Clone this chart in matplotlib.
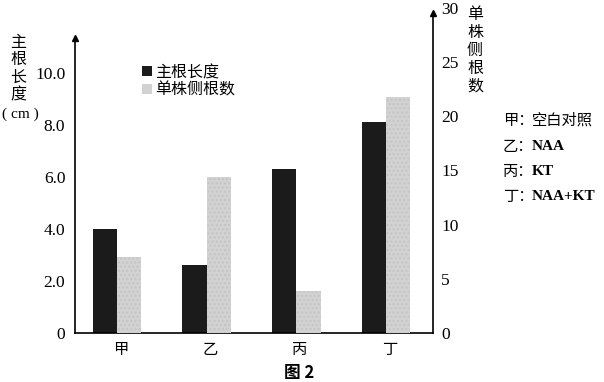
import matplotlib
matplotlib.use("Agg")
import matplotlib.pyplot as plt
from matplotlib.patches import Patch
import numpy as np

categories = ["甲", "乙", "丙", "丁"]
main_root_len = [4.0, 2.6, 6.3, 8.1]        # cm, left axis
lateral_roots = [7.0, 14.4, 3.9, 21.8]      # count, right axis
left_ticks = [0, 2.0, 4.0, 6.0, 8.0, 10.0]
left_ticklabels = ["0", "2.0", "4.0", "6.0", "8.0", "10.0"]
right_ticks = [0, 5, 10, 15, 20, 25, 30]
legend_labels = ["主根长度", "单株侧根数"]
notes_prefix = ["甲：", "乙：", "丙：", "丁："]
notes_text = ["空白对照", "NAA", "KT", "NAA+KT"]

SERIF = ["Liberation Serif", "Noto Sans CJK SC"]
CJK = ["Noto Sans CJK SC", "Liberation Serif"]
plt.rcParams["font.family"] = SERIF

W, H = 604, 382
fig = plt.figure(figsize=(W / 100, H / 100), dpi=100)

def fx(px):
    return px / W

def fy(py):
    return 1 - py / H

ax_l, ax_r_px, ax_b, ax_t = 75, 433, 333, 8
ax = fig.add_axes([fx(ax_l), fy(ax_b), fx(ax_r_px - ax_l), (ax_b - ax_t) / H])
ax2 = ax.twinx()

LPX = 26.0                       # px per unit, left axis
RPX = (ax_b - ax_t) / 30.0       # px per unit, right axis

x = np.arange(len(categories))
w = 0.27
dark = "#1b1b1b"
light = "#d2d2d2"
ax.bar(x - w / 2, main_root_len, width=w, color=dark, zorder=2)
ax2.bar(x + w / 2, lateral_roots, width=w, color=light, zorder=2,
        hatch="....", edgecolor="#c4c4c4", linewidth=0)

ax.set_xlim(-0.468, 3.523)
ax.set_ylim(0, (ax_b - ax_t) / LPX)
ax2.set_ylim(0, 30)

for a in (ax, ax2):
    a.spines["top"].set_visible(False)
    a.patch.set_visible(False)
ax.spines["right"].set_visible(False)
ax2.spines["left"].set_visible(False)
ax2.spines["bottom"].set_visible(False)
ax.spines["left"].set_bounds(0, (333 - 40) / LPX)
ax2.spines["right"].set_bounds(0, (333 - 15) / RPX)
for s in ("left", "bottom"):
    ax.spines[s].set_linewidth(1.2)
ax2.spines["right"].set_linewidth(1.2)

# arrow heads
ax.plot([-0.468], [(333 - 38) / LPX], marker="^", color="black", markersize=5,
        clip_on=False, zorder=5)
ax2.plot([3.523], [(333 - 13) / RPX], marker="^", color="black", markersize=5,
         clip_on=False, zorder=5)

ax.set_yticks(left_ticks)
ax.set_yticklabels(left_ticklabels, fontsize=12.5, family=SERIF)
ax.tick_params(axis="y", length=0, pad=7)
ax2.set_yticks(right_ticks)
ax2.set_yticklabels([str(t) for t in right_ticks], fontsize=12.5, family=SERIF)
ax2.tick_params(axis="y", length=0, pad=6)
ax.set_xticks(x + 0.04)
ax.set_xticklabels(categories, fontsize=11, family=CJK)
ax.tick_params(axis="x", length=0, pad=6)

# left axis label (vertical stacked)
for i, ch in enumerate("主根长度"):
    fig.text(fx(18), fy(42 + i * 17.5), ch, fontsize=11.5, family=CJK,
             ha="center", va="center")
fig.text(fx(20), fy(114), "( cm )", fontsize=11, family=SERIF,
         ha="center", va="center")

# right axis label
for i, ch in enumerate("单株侧根数"):
    fig.text(fx(475), fy(14 + i * 18), ch, fontsize=11.5, family=CJK,
             ha="center", va="center")

# legend
handles = [Patch(facecolor=dark, edgecolor="none"),
           Patch(facecolor=light, edgecolor="none", hatch="....")]
leg = ax.legend(handles, legend_labels, loc="upper left",
                bbox_to_anchor=(fx(142), fy(64)), bbox_transform=fig.transFigure,
                frameon=False, handlelength=0.6, handleheight=0.6,
                handletextpad=0.2, labelspacing=0.05, borderpad=0, borderaxespad=0,
                prop={"family": CJK, "size": 11.5})

# notes on the right
ys = [120, 147, 172, 197]
for p, t, y in zip(notes_prefix, notes_text, ys):
    fig.text(fx(503), fy(y), p, fontsize=11, family=CJK, ha="left", va="center")
    if all(ord(c) < 128 for c in t):
        fig.text(fx(532), fy(y), t, fontsize=11, family=SERIF, weight="bold",
                 ha="left", va="center")
    else:
        fig.text(fx(532), fy(y), t, fontsize=11, family=CJK, ha="left", va="center")

# caption
fig.text(fx(299), fy(373), "图 2", fontsize=12, family=CJK, weight="bold",
         ha="center", va="center")

fig.savefig("out.png", dpi=100)
